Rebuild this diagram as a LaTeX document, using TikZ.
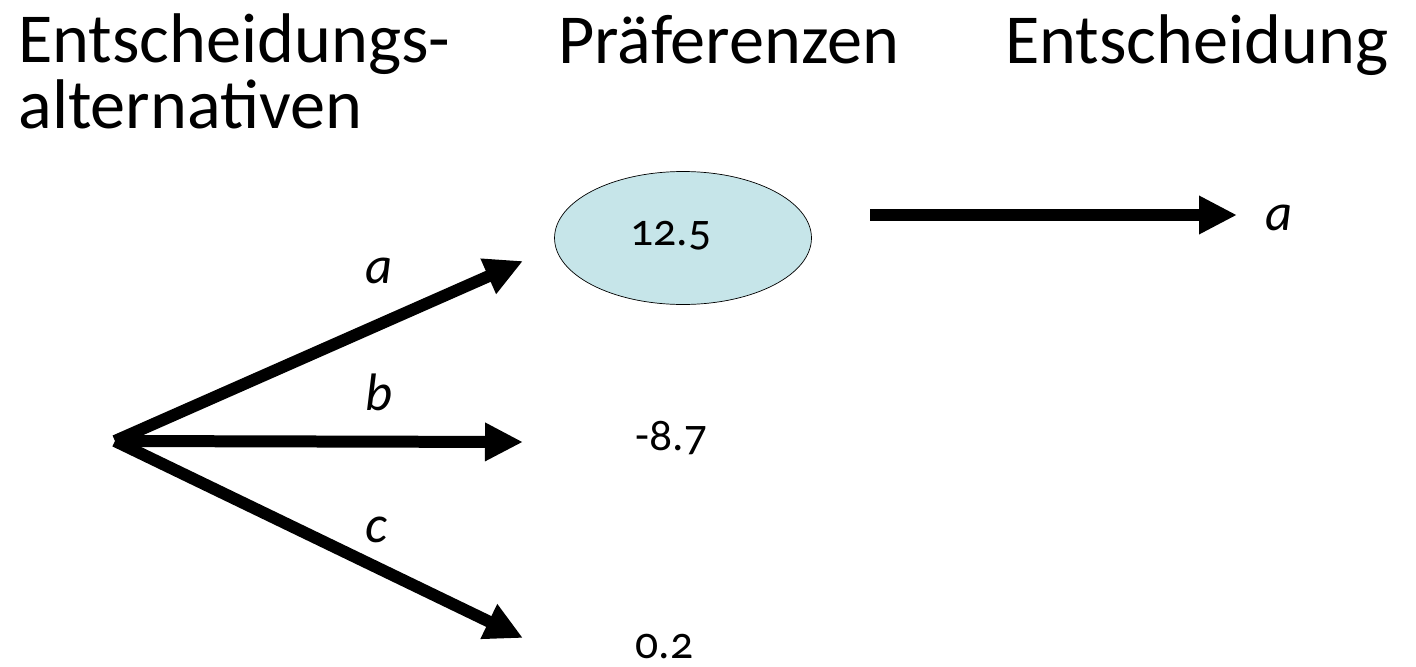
\documentclass[tikz,border=0pt]{standalone}
\usepackage{fontspec}
\setmainfont{Carlito}[Numbers=OldStyle]
\usetikzlibrary{arrows.meta,shapes.geometric}
\begin{document}
\begin{tikzpicture}[x=0.02cm,y=-0.02cm,
  head/.style={font=\fontsize{40}{37}\selectfont, anchor=base west, inner sep=0pt, align=left},
  choice/.style={font=\fontsize{30}{36}\selectfont\itshape, anchor=base west, inner sep=0pt},
  value/.style={font=\fontsize{26}{30}\selectfont, anchor=base west, inner sep=0pt},
  fat/.style={line width=0.24cm, -{Triangle[length=0.76cm,width=0.72cm]}}]
\useasboundingbox (0,0) rectangle (1416,666);
\definecolor{prefblue}{HTML}{C6E5E9}
% headings (base = last line)
\node[head] (alt) at (18,128) {Entscheidungs-\\alternativen};
\node[head] (pref) at (558,63) {Präferenzen};
\node[head] (dec) at (1005,63) {Entscheidung};
% alternatives
\coordinate (o) at (115,441);
\coordinate (ta) at (523,261);
\coordinate (tb) at (523,442);
\coordinate (tc) at (523,638);
\draw[fat] (o) -- (ta);
\draw[fat] (o) -- (tb);
\draw[fat] (o) -- (tc);
\node[choice] (la) at (365,283) {a};
\node[choice] (lb) at (365,410) {b};
\node[choice] (lc) at (365,542) {c};
% preferences
\node[ellipse, draw, fill=prefblue, minimum width=5.14cm, minimum height=2.66cm] (best) at (683,238) {};
\node[value] (va) at (630,245) {12.5};
\node[value] (vb) at (635,450) {-8.7};
\node[value] (vc) at (635,658) {0.2};
% decision
\coordinate (ds) at (870,215);
\coordinate (dt) at (1237,215);
\draw[fat] (ds) -- (dt);
\node[choice] (res) at (1265,230) {a};
\end{tikzpicture}
\end{document}
